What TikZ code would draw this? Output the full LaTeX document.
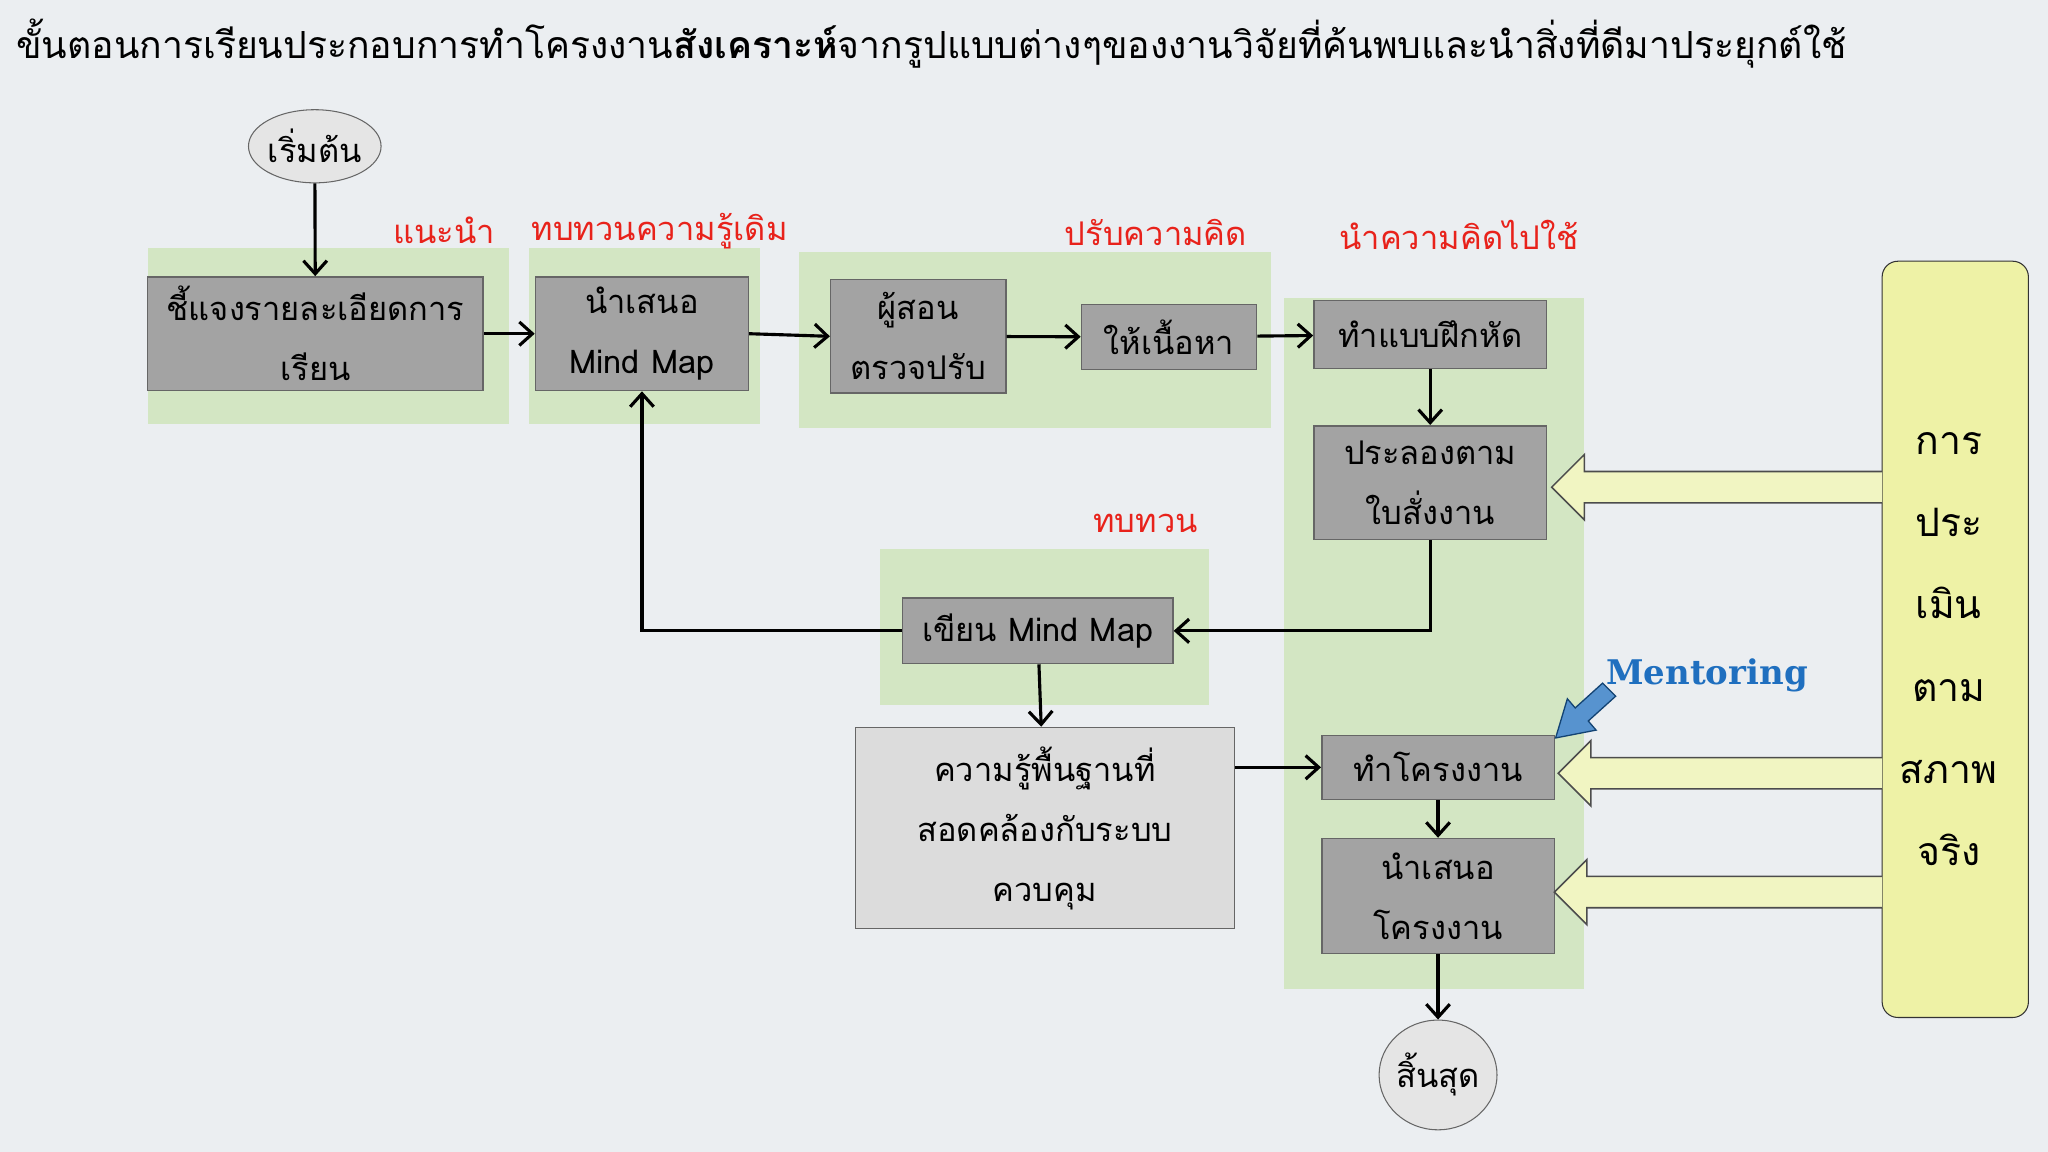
\documentclass[tikz,border=0pt]{standalone}
\usepackage{fontspec}
\newfontfamily\thf[Script=Thai]{Loma}
\newfontfamily\lat{DejaVu Serif}
\usetikzlibrary{arrows.meta,shapes.geometric}
\definecolor{bgc}{HTML}{EBEEF1}
\definecolor{grn}{HTML}{D3E6C3}
\definecolor{gbox}{HTML}{A3A3A3}
\definecolor{lbox}{HTML}{DCDCDC}
\definecolor{ylw}{HTML}{EEF2A6}
\definecolor{yarr}{HTML}{F1F5C2}
\definecolor{redl}{HTML}{E8221B}
\definecolor{bluel}{HTML}{1F6FBF}
\tikzset{
 zone/.style={fill=grn,draw=none},
 gbx/.style={draw=black!60,fill=gbox,line width=0.6pt,align=center,font=\thf\fontsize{12.5}{23}\selectfont,inner sep=0pt},
 lab/.style={text=redl,font=\thf\fontsize{12.5}{15}\selectfont},
 con/.style={line width=1.2pt,-{Straight Barb[length=5pt,width=9pt]}},
 ybox/.style={draw=black!70,fill=yarr,line width=0.6pt},
}
\begin{document}
\begin{tikzpicture}[x=0.5pt,y=-0.5pt]
\fill[bgc] (0,0) rectangle (1568,882);
\useasboundingbox (0,0) rectangle (1568,882);
\node[anchor=west,font=\thf\fontsize{14.3}{18}\selectfont,inner sep=0pt] (title) at (12,33) {ขั้นตอนการเรียนประกอบการทำโครงงาน\textbf{สังเคราะห์}จากรูปแบบต่างๆของงานวิจัยที่ค้นพบและนำสิ่งที่ดีมาประยุกต์ใช้};
% zones
\fill[zone] (113,190) rectangle (390,325);
\fill[zone] (405,190) rectangle (582,325);
\fill[zone] (612,193) rectangle (973,328);
\fill[zone] (983,228) rectangle (1213,757);
\fill[zone] (674,420) rectangle (926,540);
% labels
\node[lab] (l1) at (340,176) {แนะนำ};
\node[lab] (l2) at (505,177) {ทบทวนความรู้เดิม};
\node[lab] (l3) at (885,178) {ปรับความคิด};
\node[lab] (l4) at (1117,180) {นำความคิดไปใช้};
\node[lab] (l5) at (877,401) {ทบทวน};
% start/end
\node[draw=black!60,fill=black!10,ellipse,minimum width=45pt,minimum height=28pt,inner sep=0pt,font=\thf\fontsize{12.5}{15}\selectfont] (st) at (241,112) {เริ่มต้น};
\node[draw=black!60,fill=black!10,ellipse,minimum width=44pt,minimum height=42pt,inner sep=0pt,font=\thf\fontsize{12.5}{15}\selectfont] (en) at (1101,823) {สิ้นสุด};
% boxes
\node[gbx,minimum width=128.5pt,minimum height=43.5pt] (b1) at (241.5,255.5) {ชี้แจงรายละเอียดการ\\เรียน};
\node[gbx,minimum width=81.5pt,minimum height=43.5pt] (b2) at (491.5,255.5) {นำเสนอ\\Mind Map};
\node[gbx,minimum width=67pt,minimum height=43.5pt] (b3) at (703,257.5) {ผู้สอน\\ตรวจปรับ};
\node[gbx,minimum width=67pt,minimum height=25pt] (b4) at (895,258) {ให้เนื้อหา};
\node[gbx,minimum width=89pt,minimum height=26pt] (b5) at (1095,256) {ทำแบบฝึกหัด};
\node[gbx,minimum width=89pt,minimum height=43.5pt] (b6) at (1095,369.5) {ประลองตาม\\ใบสั่งงาน};
\node[gbx,minimum width=103.5pt,minimum height=25pt] (b9) at (794.5,483) {เขียน Mind Map};
\node[gbx,fill=lbox,minimum width=145pt,minimum height=77pt] (lb) at (800,634) {ความรู้พื้นฐานที่\\สอดคล้องกับระบบ\\ควบคุม};
\node[gbx,minimum width=89pt,minimum height=24.5pt] (b7) at (1101,587.5) {ทำโครงงาน};
\node[gbx,minimum width=89pt,minimum height=44pt] (b8) at (1101,686) {นำเสนอ\\โครงงาน};
% yellow
\node[draw=black!80,fill=ylw,rounded corners=6pt,minimum width=56pt,minimum height=289.5pt,inner sep=0pt] (yb) at (1497,489.5) {};
\node[align=center,font=\thf\fontsize{15}{31.5}\selectfont] (yt) at (1492,497) {การ\\ประ\\เมิน\\ตาม\\สภาพ\\จริง};
% hollow arrows
\foreach \c/\t in {373/1188,592/1193,683/1190}{
 \draw[ybox] (1441,\c-12) -- (\t+25,\c-12) -- (\t+25,\c-25) -- (\t,\c) -- (\t+25,\c+25) -- (\t+25,\c+12) -- (1441,\c+12);
}
% mentoring
\node[text=bluel,font=\lat\bfseries\fontsize{13}{16}\selectfont] (men) at (1307,517) {Mentoring};
\draw[fill=bluel!75,draw=bluel!60!black,line width=0.5pt] (1191,565) -- (1222,559) -- (1216,552) -- (1237,533) -- (1227,523) -- (1206,542) -- (1200,535) -- cycle;
% connectors
\draw[con] (st) -- (b1);
\draw[con] (b1) -- (b2);
\draw[con] (b2.east) -- (b3.west);
\draw[con] (b3) -- (b4);
\draw[con] (b4) -- (b5);
\draw[con] (b5) -- (b6);
\draw[con] (b6.south) |- (b9.east);
\draw[con] (b9.west) -| (b2.south);
\draw[con] (b9) -- (lb);
\draw[con] (lb.east |- b7) -- (b7);
\draw[con] (b7) -- (b8);
\draw[con] (b8) -- (en);
\end{tikzpicture}
\end{document}
